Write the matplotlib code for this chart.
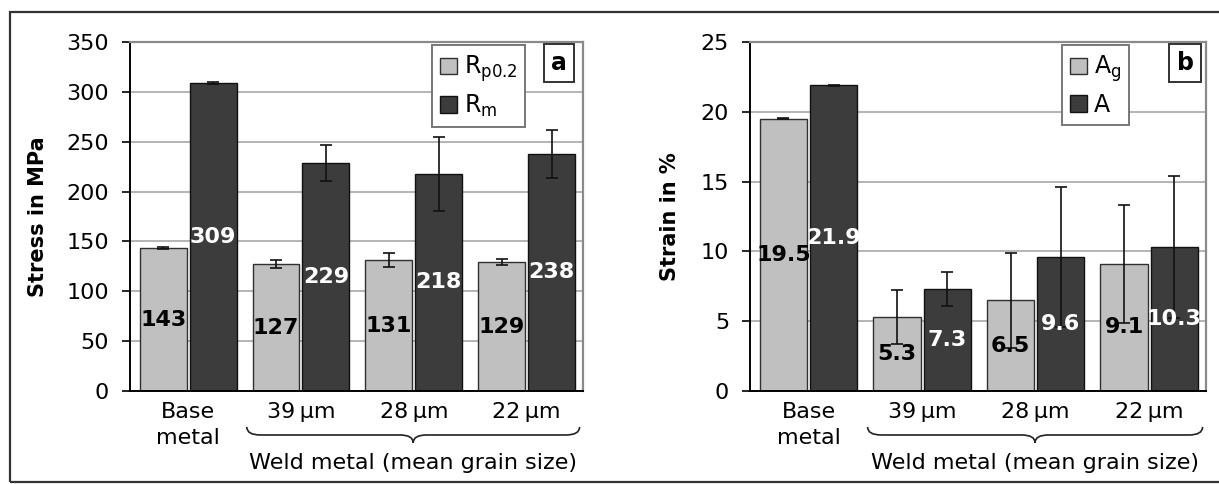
import numpy as np
import matplotlib
matplotlib.use("Agg")
import matplotlib.pyplot as plt
from matplotlib.patches import Patch, Rectangle, PathPatch
from matplotlib.path import Path
import matplotlib.transforms as mtransforms

plt.rcParams['font.family'] = ['DejaVu Sans']
plt.rcParams['mathtext.fontset'] = 'dejavusans'

categories = ["Base\nmetal", "39\u2009µm", "28\u2009µm", "22\u2009µm"]
group_label = "Weld metal (mean grain size)"

# panel a: stress
rp02 = [143, 127, 131, 129]
rp02_err = [1, 4, 7, 3]
rm = [309, 229, 218, 238]
rm_err = [1, 18, 37, 24]

# panel b: strain
ag = [19.5, 5.3, 6.5, 9.1]
ag_err = [0.05, 1.9, 3.4, 4.2]
a_el = [21.9, 7.3, 9.6, 10.3]
a_el_err = [0.05, 1.2, 5.0, 5.1]

LIGHT = "#c0c0c0"
DARK = "#3c3c3c"

fig = plt.figure(figsize=(12.19, 4.84), dpi=100)

# outer frame
fig.patches.append(Rectangle((10/1219, 2/484), 1.05, 470/484, transform=fig.transFigure,
                             fill=False, edgecolor="#333333", linewidth=1.6))

W = 1219.0
H = 484.0
axA = fig.add_axes([130/W, 1-391/H, 453/W, 349/H])
axB = fig.add_axes([750/W, 1-391/H, 456/W, 349/H])


def draw_brace(ax, x0, x1, ytop, ymid, ytip):
    trans = mtransforms.blended_transform_factory(ax.transData, ax.transAxes)
    xc = (x0 + x1) / 2
    d = 0.12
    verts = [(x0, ytop), (x0, ymid), (x0 + d, ymid),
             (xc - d, ymid), (xc, ymid), (xc, ytip),
             (xc, ymid), (xc + d, ymid),
             (x1 - d, ymid), (x1, ymid), (x1, ytop)]
    codes = [Path.MOVETO, Path.CURVE3, Path.CURVE3,
             Path.LINETO, Path.CURVE3, Path.CURVE3,
             Path.CURVE3, Path.CURVE3,
             Path.LINETO, Path.CURVE3, Path.CURVE3]
    pp = PathPatch(Path(verts, codes), transform=trans, fill=False,
                   edgecolor="#222222", linewidth=1.2, clip_on=False)
    ax.add_patch(pp)
    return trans, xc


def panel(ax, v1, e1, v2, e2, ymax, ystep, ylabel, lab1, lab2, letter, fmt,
          ylab_x, leg_x, letter_x):
    x = np.arange(len(categories))
    w = 0.416
    off = 0.221
    ax.set_axisbelow(True)
    ax.yaxis.grid(True, color="#a8a8a8", linewidth=1.2)
    ax.bar(x - off, v1, w, color=LIGHT, edgecolor="#303030", linewidth=1.0, zorder=2)
    ax.bar(x + off, v2, w, color=DARK, edgecolor="#111111", linewidth=1.0, zorder=2)
    ax.errorbar(x - off, v1, yerr=e1, fmt="none", ecolor="#111111", elinewidth=1.2,
                capsize=4, capthick=1.2, zorder=3)
    ax.errorbar(x + off, v2, yerr=e2, fmt="none", ecolor="#111111", elinewidth=1.2,
                capsize=4, capthick=1.2, zorder=3)
    for xi, v in zip(x - off, v1):
        ax.text(xi, v / 2, fmt(v), ha="center", va="center", fontsize=16,
                fontweight="bold", color="black", zorder=4)
    for xi, v in zip(x + off, v2):
        ax.text(xi, v / 2, fmt(v), ha="center", va="center", fontsize=16,
                fontweight="bold", color="white", zorder=4)

    ax.set_xlim(-0.515, 3.5)
    ax.set_ylim(0, ymax)
    ax.set_yticks(np.arange(0, ymax + 0.001, ystep))
    ax.tick_params(axis="y", direction="out", length=6, width=1.2, pad=9,
                   labelsize=16, colors="black")
    ax.tick_params(axis="x", length=0, pad=8, labelsize=16)
    ax.set_xticks(x)
    ax.set_xticklabels(categories, va="top", linespacing=1.35)
    for s in ["left", "bottom"]:
        ax.spines[s].set_color("black")
        ax.spines[s].set_linewidth(1.4)
    for s in ["top", "right"]:
        ax.spines[s].set_color("#8a8a8a")
        ax.spines[s].set_linewidth(1.6)
    ax.set_ylabel(ylabel, fontsize=15, fontweight="bold")
    ax.yaxis.set_label_coords(ylab_x, 0.5)

    trans, xc = draw_brace(ax, 1 - 0.48, 3 + 0.47, -0.103, -0.126, -0.148)
    ax.text(xc, -0.205, group_label, transform=trans, ha="center", va="center",
            fontsize=16)

    handles = [Patch(facecolor=LIGHT, edgecolor="#303030", label=lab1),
               Patch(facecolor=DARK, edgecolor="#111111", label=lab2)]
    leg = ax.legend(handles=handles, loc="upper left", bbox_to_anchor=(leg_x, 0.99),
                    fontsize=17, frameon=True, fancybox=False, framealpha=1,
                    edgecolor="#777777", handlelength=0.7, handleheight=0.7,
                    handletextpad=0.3, labelspacing=0.35, borderpad=0.35,
                    borderaxespad=0)
    leg.get_frame().set_linewidth(1.4)
    ax.text(letter_x, 0.941, letter, transform=ax.transAxes, ha="center", va="center",
            fontsize=17, fontweight="bold",
            bbox=dict(boxstyle="square,pad=0.3", facecolor="white", edgecolor="#333333",
                      linewidth=1.4))


panel(axA, rp02, rp02_err, rm, rm_err, 350, 50, "Stress in MPa",
      r"R$_{\mathregular{p0.2}}$", r"R$_{\mathregular{m}}$", "a",
      lambda v: f"{v:.0f}", -0.18, 0.667, 0.947)
panel(axB, ag, ag_err, a_el, a_el_err, 25, 5, "Strain in %",
      r"A$_{\mathregular{g}}$", "A", "b",
      lambda v: f"{v:.1f}", -0.153, 0.684, 0.954)

fig.savefig("out.png", dpi=100)
